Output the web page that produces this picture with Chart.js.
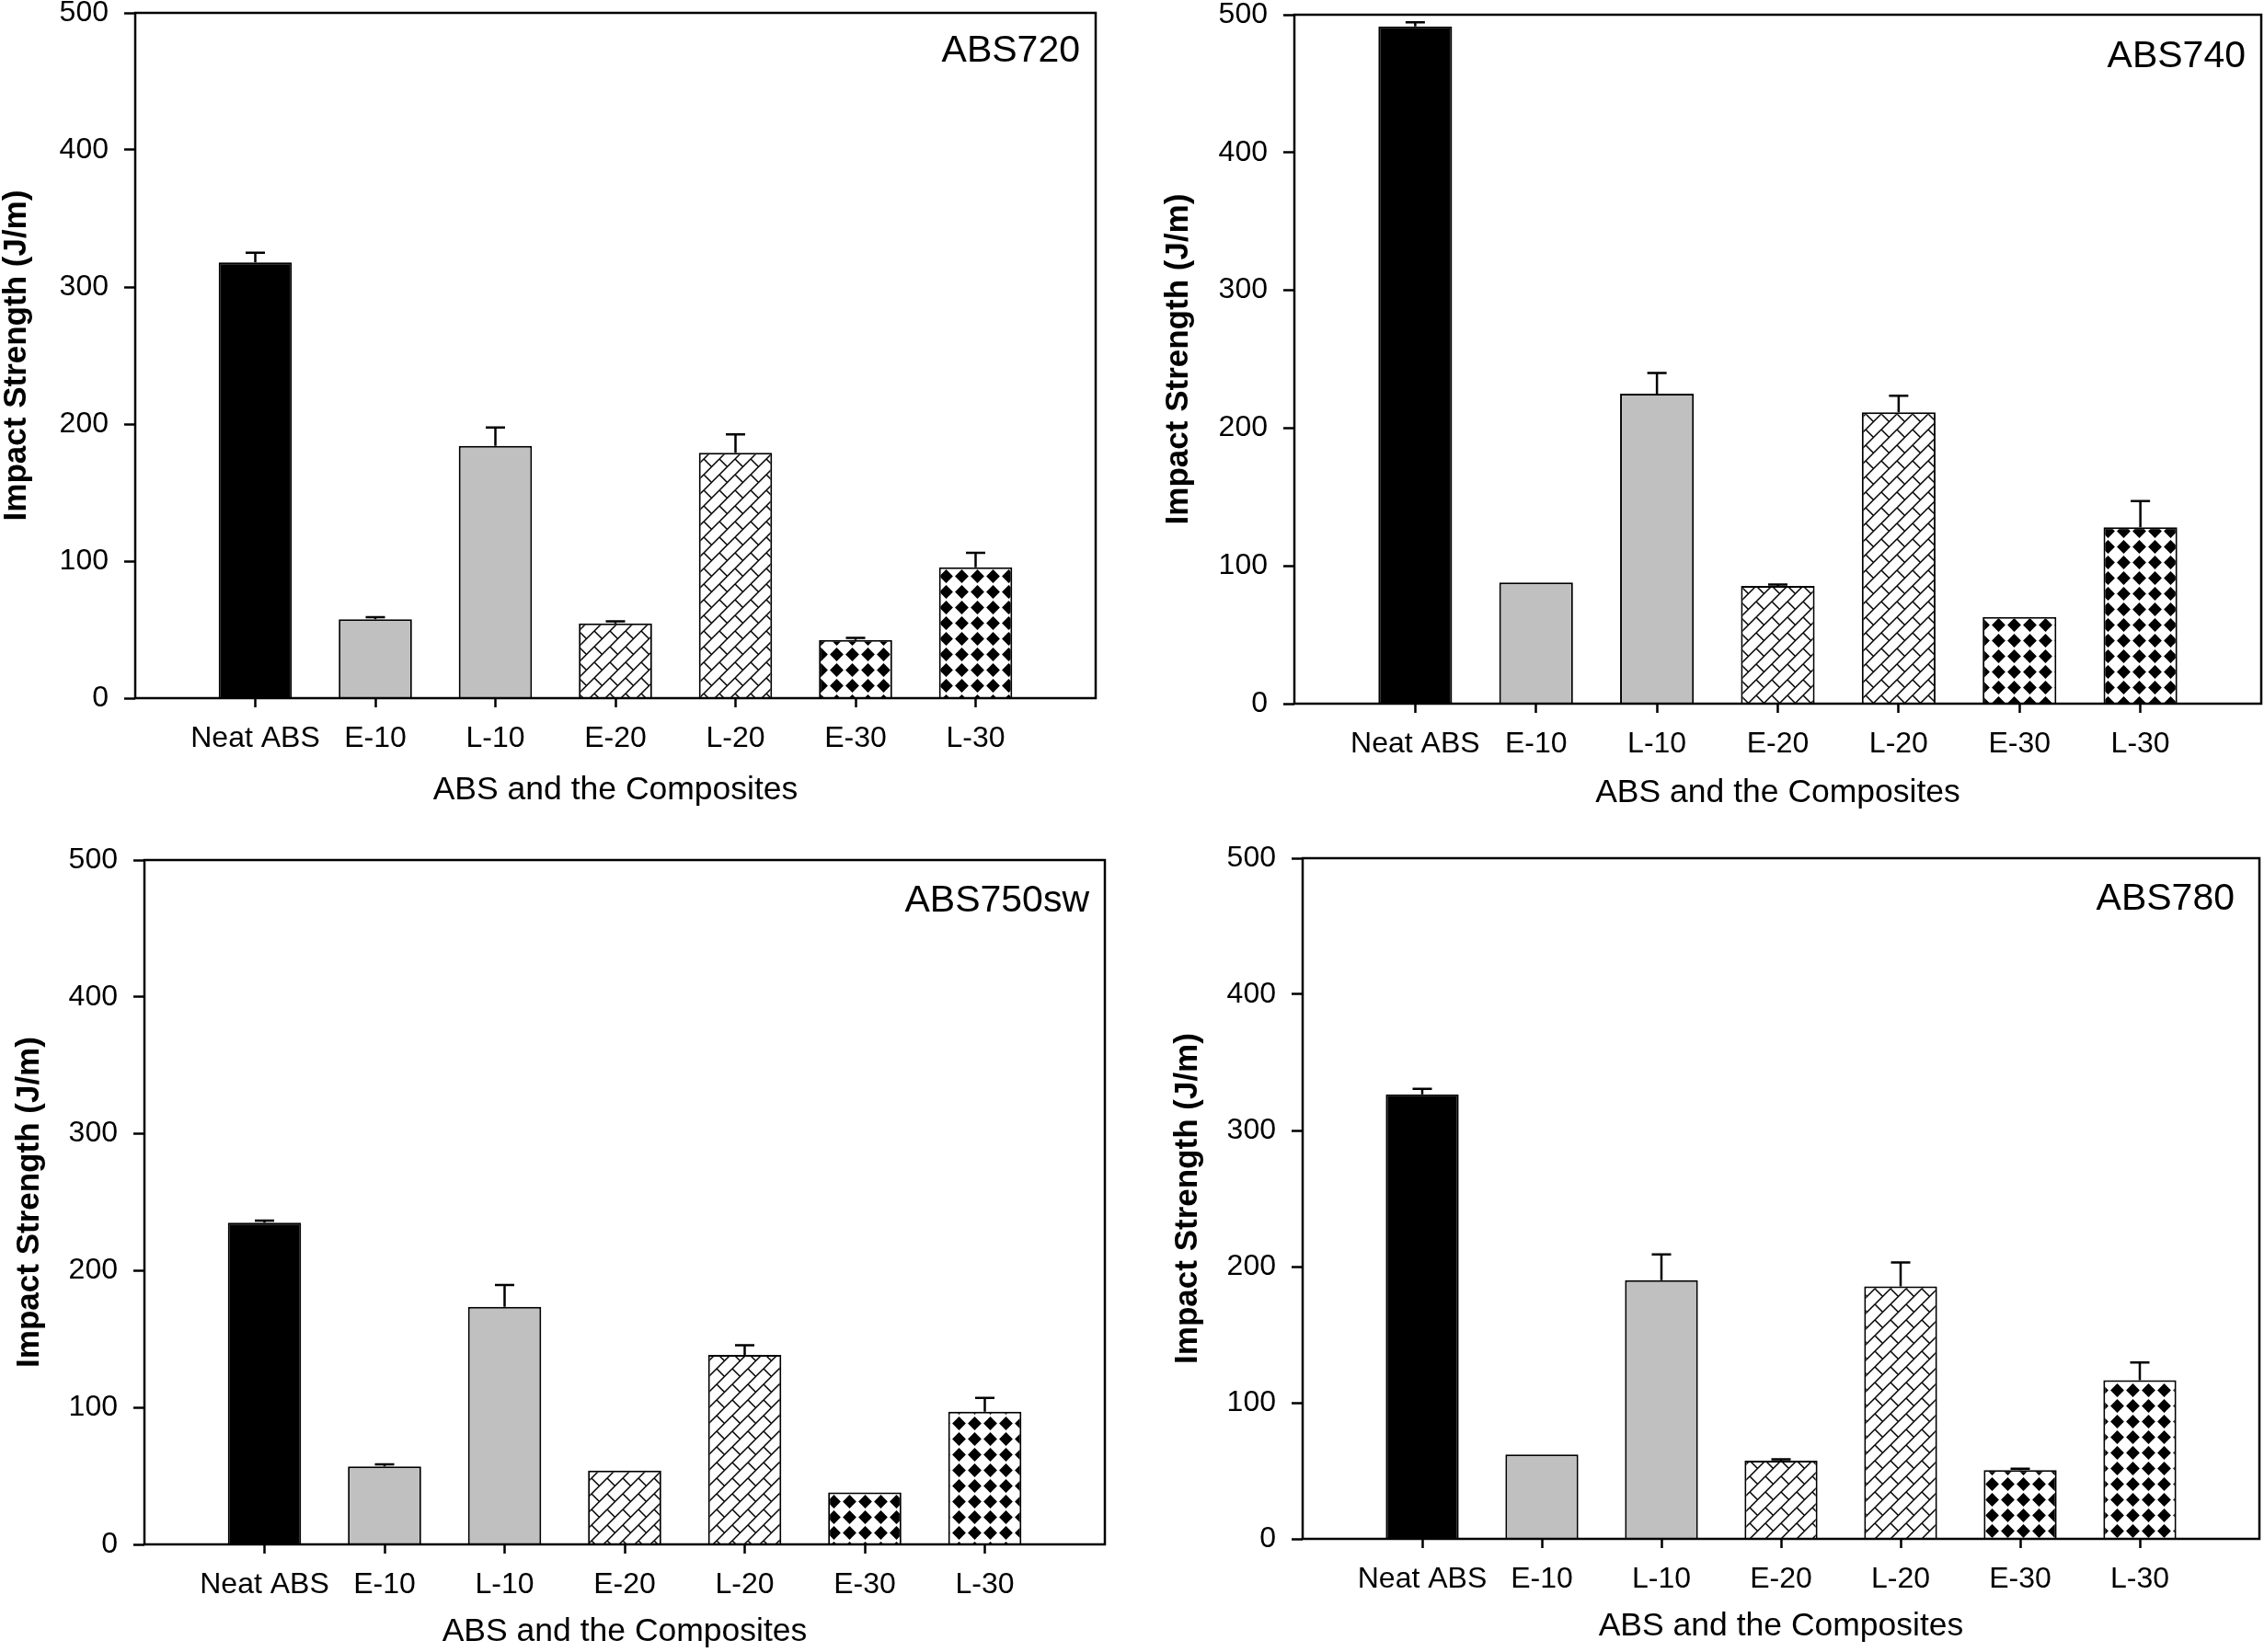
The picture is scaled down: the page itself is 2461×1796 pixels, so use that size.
<!DOCTYPE html>
<html>
<head>
<meta charset="utf-8">
<script src="https://cdn.jsdelivr.net/npm/chart.js@4.4.0/dist/chart.umd.min.js"></script>
<style>
html, body { margin: 0; padding: 0; background: #fff; }
body { width: 2461px; height: 1796px; position: relative; overflow: hidden; }
.panel { position: absolute; }
</style>
</head>
<body>
<div class="panel" id="p720"><canvas></canvas></div>
<div class="panel" id="p740"><canvas></canvas></div>
<div class="panel" id="p750"><canvas></canvas></div>
<div class="panel" id="p780"><canvas></canvas></div>
<script>
// data
var categories = ['Neat ABS', 'E-10', 'L-10', 'E-20', 'L-20', 'E-30', 'L-30'];

var abs720 = [318, 57.5, 184, 54.5, 179, 42.5, 95.5];
var abs720Err = [7, 1.5, 13.5, 1.5, 13.5, 1.5, 10.5];

var abs740 = [491.5, 88, 225, 85.5, 211.5, 63, 128];
var abs740Err = [3, 0, 15, 1, 12, 0, 19];

var abs750sw = [235, 57, 173.5, 54, 138.5, 38, 97];
var abs750swErr = [1.5, 1.5, 16, 0, 7, 0, 10];

var abs780 = [326.5, 62, 190, 57.5, 185.5, 50.5, 116.5];
var abs780Err = [4, 0, 19, 1, 17.5, 1, 13];

var yTicks = [0, 100, 200, 300, 400, 500];
var yTitle = 'Impact Strength (J/m)';
var xTitle = 'ABS and the Composites';

Chart.defaults.font.family = '"Liberation Sans", Arial, sans-serif';
Chart.defaults.color = '#000';

// fill patterns
function brickPattern() {
    var T = 17;
    var c = document.createElement('canvas');
    c.width = T; c.height = T;
    var g = c.getContext('2d');
    g.fillStyle = '#fff';
    g.fillRect(0, 0, T, T);
    g.strokeStyle = '#000';
    g.lineWidth = 1.5;
    [-T, 0, T].forEach(function(dx) {
        [-T, 0, T].forEach(function(dy) {
            g.beginPath();
            g.moveTo(dx, dy + T); g.lineTo(dx + T, dy);
            g.moveTo(dx, dy); g.lineTo(dx + T / 2, dy + T / 2);
            g.stroke();
        });
    });
    return g.createPattern(c, 'repeat');
}

function diamondPattern() {
    var T = 17, r = 7.4;
    var c = document.createElement('canvas');
    c.width = T; c.height = T;
    var g = c.getContext('2d');
    g.fillStyle = '#fff';
    g.fillRect(0, 0, T, T);
    g.fillStyle = '#000';
    g.beginPath();
    g.moveTo(T / 2, T / 2 - r);
    g.lineTo(T / 2 + r, T / 2);
    g.lineTo(T / 2, T / 2 + r);
    g.lineTo(T / 2 - r, T / 2);
    g.closePath();
    g.fill();
    return g.createPattern(c, 'repeat');
}

var brick = brickPattern();
var diamond = diamondPattern();
var fills = [null, '#000', '#c0c0c0', '#c0c0c0', brick, brick, diamond, diamond, null];

// error bars, frame and panel name
var framePlugin = {
    id: 'frame',
    afterDatasetsDraw: function(chart) {
        var ctx = chart.ctx, a = chart.chartArea, ys = chart.scales.y;
        var ds = chart.data.datasets[0];
        var meta = chart.getDatasetMeta(0);
        ctx.save();
        ctx.strokeStyle = '#000';
        ctx.lineWidth = 2.5;
        meta.data.forEach(function(bar, i) {
            var v = ds.data[i], e = ds.errors[i];
            if (v == null || !e) return;
            var top = ys.getPixelForValue(v + e);
            ctx.beginPath();
            ctx.moveTo(bar.x, bar.y);
            ctx.lineTo(bar.x, top);
            ctx.moveTo(bar.x - 10.5, top);
            ctx.lineTo(bar.x + 10.5, top);
            ctx.stroke();
        });
        ctx.strokeRect(a.left, a.top, a.right - a.left, a.bottom - a.top);

        var n = chart.options.plugins.frame;
        ctx.fillStyle = '#000';
        ctx.font = '41px "Liberation Sans", Arial, sans-serif';
        ctx.textAlign = 'right';
        ctx.textBaseline = 'alphabetic';
        ctx.fillText(n.name, a.right - n.nameRight, a.top + n.nameBase);
        ctx.restore();
    }
};

function pad(arr) {
    return [null].concat(arr, [null]);
}

function makeChart(p) {
    var wy = p.yTitleGap + 18;
    var hx = Math.round(p.xTitleGap + 21);
    // room for the tick label overhang chart.js reserves
    var padTop = 42, padRight = 20;
    var w = wy + (p.right - p.left) + padRight;
    var h = padTop + (p.bottom - p.top) + hx;
    var box = document.getElementById(p.id);
    box.style.left = (p.left - wy) + 'px';
    box.style.top = (p.top - padTop) + 'px';
    box.style.width = w + 'px';
    box.style.height = h + 'px';

    new Chart(box.querySelector('canvas'), {
        type: 'bar',
        data: {
            labels: [''].concat(categories, ['']),
            datasets: [{
                data: pad(p.values),
                errors: pad(p.errors),
                backgroundColor: fills,
                borderColor: '#000',
                borderWidth: 2,
                categoryPercentage: 1,
                barPercentage: 0.61
            }]
        },
        options: {
            responsive: true,
            maintainAspectRatio: false,
            animation: false,
            layout: { padding: { top: padTop, right: padRight, left: 0, bottom: 0 } },
            plugins: {
                legend: { display: false },
                tooltip: { enabled: false },
                frame: { name: p.name, nameRight: p.nameRight, nameBase: p.nameBase }
            },
            scales: {
                x: {
                    type: 'category',
                    offset: false,
                    border: { display: false },
                    grid: {
                        offset: false,
                        drawOnChartArea: false,
                        drawTicks: true,
                        tickLength: 10,
                        tickWidth: 2.5,
                        tickColor: function(c) {
                            return (c.index === 0 || c.index === categories.length + 1) ? 'rgba(0,0,0,0)' : '#000';
                        }
                    },
                    ticks: { font: { size: 32 }, color: '#000', padding: 15, autoSkip: false, maxRotation: 0 },
                    title: { display: true, text: xTitle, font: { size: 35.5 }, color: '#000', padding: { top: 0, bottom: 0 } },
                    afterFit: function(s) { s.height = hx; }
                },
                y: {
                    min: 0,
                    max: 500,
                    border: { display: false },
                    grid: { drawOnChartArea: false, drawTicks: true, tickLength: 12, tickWidth: 2.5, tickColor: '#000' },
                    ticks: { font: { size: 32 }, color: '#000', padding: 17 },
                    afterBuildTicks: function(s) {
                        s.ticks = yTicks.map(function(v) { return { value: v }; });
                    },
                    title: { display: true, text: yTitle, font: { size: 35, weight: 'bold', lineHeight: 1 }, color: '#000', padding: { top: 1, bottom: 0 } },
                    afterFit: function(s) { s.width = wy; }
                }
            }
        },
        plugins: [framePlugin]
    });
}

makeChart({ id: 'p720', name: 'ABS720', values: abs720, errors: abs720Err,
    left: 147, top: 14, right: 1191, bottom: 759, yTitleGap: 129, xTitleGap: 101, nameRight: 17, nameBase: 53 });
makeChart({ id: 'p740', name: 'ABS740', values: abs740, errors: abs740Err,
    left: 1407, top: 16, right: 2458, bottom: 765, yTitleGap: 126, xTitleGap: 98, nameRight: 17, nameBase: 57 });
makeChart({ id: 'p750', name: 'ABS750sw', values: abs750sw, errors: abs750swErr,
    left: 157, top: 935, right: 1201, bottom: 1679, yTitleGap: 125, xTitleGap: 96, nameRight: 17, nameBase: 56 });
makeChart({ id: 'p780', name: 'ABS780', values: abs780, errors: abs780Err,
    left: 1416, top: 933, right: 2456, bottom: 1673, yTitleGap: 125, xTitleGap: 96, nameRight: 27, nameBase: 56 });
</script>
</body>
</html>
